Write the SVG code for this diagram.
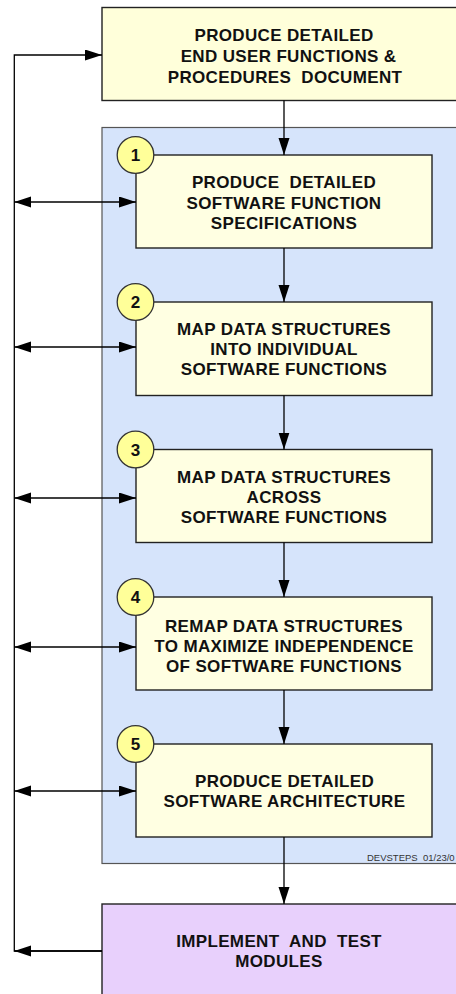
<svg xmlns="http://www.w3.org/2000/svg" width="456" height="994" viewBox="0 0 456 994">
  <style>
    .box { fill: #FFFFE2; stroke: #222; stroke-width: 1.4; }
    .top { fill: #FFFFDA; stroke: #222; stroke-width: 1.4; }
    .impl { fill: #E8D0FC; stroke: #222; stroke-width: 1.4; }
    .panel { fill: #D6E4FB; stroke: #555; stroke-width: 1.2; }
    .badge { fill: #FFFF99; stroke: #333; stroke-width: 1.3; }
    .lbl { font-family: "Liberation Sans", Arial, sans-serif; font-weight: bold; font-size: 17px; fill: #111; text-anchor: middle; white-space: pre; letter-spacing: 0.35px; }
    .num { font-family: "Liberation Sans", Arial, sans-serif; font-weight: bold; font-size: 17px; fill: #111; text-anchor: middle; }
    .stamp { font-family: "Liberation Sans", Arial, sans-serif; font-size: 9.5px; fill: #333; white-space: pre; }
    .conn { fill: none; stroke: #000; stroke-width: 1.3; }
  </style>
  <defs>
    <marker id="head" markerUnits="userSpaceOnUse" markerWidth="18" markerHeight="12" refX="17" refY="5.5" orient="auto-start-reverse">
      <path d="M0,0 L17,5.5 L0,11 Z" fill="#000"/>
    </marker>
  </defs>

  <!-- backdrop panel holding the five development steps -->
  <rect class="panel" x="102" y="127.5" width="370" height="736"/>
  <text class="stamp" x="367" y="860.5">DEVSTEPS  01/23/0</text>

  <!-- input document -->
  <g id="end-user-doc">
    <rect class="top" x="102" y="7.5" width="370" height="93"/>
    <text class="lbl" x="284" y="41">PRODUCE DETAILED</text>
    <text class="lbl" x="286" y="62"> END USER FUNCTIONS &amp;</text>
    <text class="lbl" x="285" y="83">PROCEDURES  DOCUMENT</text>
  </g>

  <!-- step 1 -->
  <g id="step1">
    <rect class="box" x="136" y="155" width="296" height="93"/>
    <circle class="badge" cx="135.5" cy="155" r="18.3"/>
    <text class="num" x="135.5" y="161">1</text>
    <text class="lbl" x="284" y="188">PRODUCE  DETAILED</text>
    <text class="lbl" x="284" y="209">SOFTWARE FUNCTION</text>
    <text class="lbl" x="284" y="229">SPECIFICATIONS</text>
  </g>

  <!-- step 2 -->
  <g id="step2">
    <rect class="box" x="136" y="302" width="296" height="93.5"/>
    <circle class="badge" cx="135.5" cy="302" r="18.3"/>
    <text class="num" x="135.5" y="308">2</text>
    <text class="lbl" x="284" y="335">MAP DATA STRUCTURES</text>
    <text class="lbl" x="284" y="355">INTO INDIVIDUAL</text>
    <text class="lbl" x="284" y="375">SOFTWARE FUNCTIONS</text>
  </g>

  <!-- step 3 -->
  <g id="step3">
    <rect class="box" x="136" y="449.5" width="296" height="93"/>
    <circle class="badge" cx="135.5" cy="449.5" r="18.3"/>
    <text class="num" x="135.5" y="455.5">3</text>
    <text class="lbl" x="284" y="483">MAP DATA STRUCTURES</text>
    <text class="lbl" x="284" y="503">ACROSS</text>
    <text class="lbl" x="284" y="523">SOFTWARE FUNCTIONS</text>
  </g>

  <!-- step 4 -->
  <g id="step4">
    <rect class="box" x="136" y="597" width="296" height="93"/>
    <circle class="badge" cx="135.5" cy="597" r="18.3"/>
    <text class="num" x="135.5" y="603">4</text>
    <text class="lbl" x="284" y="632">REMAP DATA STRUCTURES</text>
    <text class="lbl" x="284" y="652">TO MAXIMIZE INDEPENDENCE</text>
    <text class="lbl" x="284" y="672">OF SOFTWARE FUNCTIONS</text>
  </g>

  <!-- step 5 -->
  <g id="step5">
    <rect class="box" x="136" y="744" width="296" height="93"/>
    <circle class="badge" cx="135.5" cy="744" r="18.3"/>
    <text class="num" x="135.5" y="750">5</text>
    <text class="lbl" x="284.5" y="787">PRODUCE DETAILED</text>
    <text class="lbl" x="284.5" y="807">SOFTWARE ARCHITECTURE</text>
  </g>

  <!-- output stage -->
  <g id="implement">
    <rect class="impl" x="102" y="904" width="370" height="100"/>
    <text class="lbl" x="279" y="947">IMPLEMENT  AND  TEST</text>
    <text class="lbl" x="279" y="967">MODULES</text>
  </g>

  <!-- connectors -->
  <g id="connectors">
    <!-- main downward flow -->
    <line class="conn" x1="284" y1="100.5" x2="284" y2="155" marker-end="url(#head)"/>
    <line class="conn" x1="284" y1="248" x2="284" y2="302" marker-end="url(#head)"/>
    <line class="conn" x1="284" y1="395.5" x2="284" y2="449.5" marker-end="url(#head)"/>
    <line class="conn" x1="284" y1="542.5" x2="284" y2="597" marker-end="url(#head)"/>
    <line class="conn" x1="284" y1="690" x2="284" y2="744" marker-end="url(#head)"/>
    <line class="conn" x1="284" y1="837" x2="284" y2="904" marker-end="url(#head)"/>
    <!-- feedback bus on the left -->
    <polyline class="conn" points="102,951 14.3,951 14.3,55 102,55" marker-end="url(#head)"/>
    <line class="conn" x1="102" y1="951" x2="14.3" y2="951" marker-end="url(#head)"/>
    <!-- two-way links between bus and each step -->
    <line class="conn" x1="14.3" y1="202" x2="136" y2="202" marker-start="url(#head)" marker-end="url(#head)"/>
    <line class="conn" x1="14.3" y1="347" x2="136" y2="347" marker-start="url(#head)" marker-end="url(#head)"/>
    <line class="conn" x1="14.3" y1="498" x2="136" y2="498" marker-start="url(#head)" marker-end="url(#head)"/>
    <line class="conn" x1="14.3" y1="647" x2="136" y2="647" marker-start="url(#head)" marker-end="url(#head)"/>
    <line class="conn" x1="14.3" y1="791" x2="136" y2="791" marker-start="url(#head)" marker-end="url(#head)"/>
  </g>
</svg>
